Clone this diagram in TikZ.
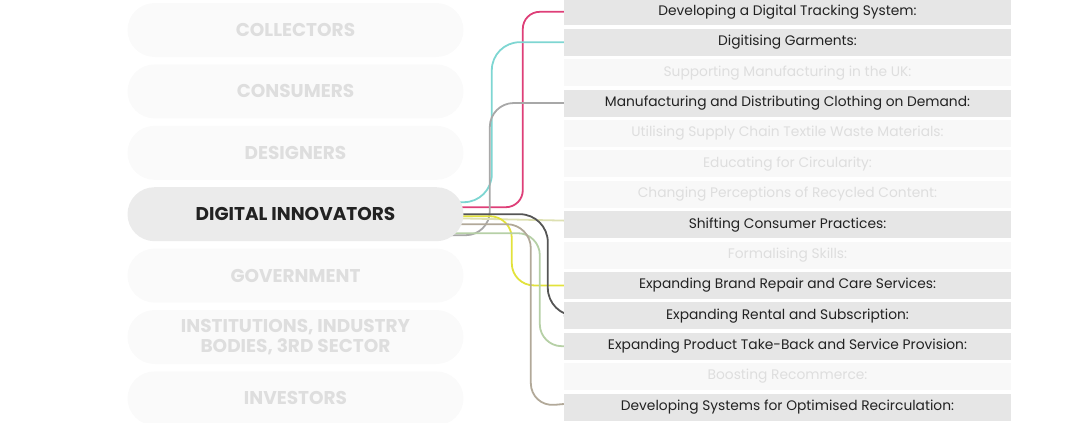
\documentclass[tikz,border=0pt]{standalone}
\usepackage{fontspec}
\setmainfont{Poppins}
\usetikzlibrary{positioning,backgrounds}
\definecolor{pillfaint}{HTML}{FAFAFA}
\definecolor{pillgrey}{HTML}{EBEBEB}
\definecolor{barfaint}{HTML}{F8F8F8}
\definecolor{bargrey}{HTML}{E6E6E6}
\definecolor{textfaint}{HTML}{DEDEDE}
\definecolor{textdark}{HTML}{222222}
\definecolor{lnpink}{HTML}{DE3F78}
\definecolor{lncyan}{HTML}{7ED6D2}
\definecolor{lngrey}{HTML}{A8A8A8}
\definecolor{lnolive}{HTML}{DDE0B2}
\definecolor{lnyellow}{HTML}{E2E23C}
\definecolor{lndark}{HTML}{555555}
\definecolor{lngreen}{HTML}{B6D0A6}
\definecolor{lntan}{HTML}{B2A999}

\begin{document}
\begin{tikzpicture}[x=1pt, y=-1pt, node distance=7pt,
    pill/.style={rounded corners=27pt, minimum width=336pt, minimum height=54pt, inner sep=0pt, fill=pillfaint, text=textfaint, align=center, font=\bfseries\fontsize{18.5}{20}\selectfont},
    pillon/.style={pill, fill=pillgrey, text=textdark},
    bar/.style={minimum width=447pt, minimum height=27pt, inner sep=0pt, fill=barfaint, text=textfaint, font=\fontsize{13.8}{14}\selectfont},
    baron/.style={bar, fill=bargrey, text=textdark},
    link/.style={line width=1.8pt}]
    \useasboundingbox (0,0) rectangle (1080,423);

    % stakeholder groups
    \node[pill] (coll) at (295.5,30) {COLLECTORS};
    \node[pill, below=of coll] (cons) {CONSUMERS};
    \node[pill, below=of cons] (desi) {DESIGNERS};
    \node[pillon, below=of desi] (digi) {DIGITAL INNOVATORS};
    \node[pill, below=of digi] (govt) {GOVERNMENT};
    \node[pill, below=of govt] (inst) {INSTITUTIONS, INDUSTRY\\BODIES, 3RD SECTOR};
    \node[pill, below=of inst] (inve) {INVESTORS};

    % actions
    \node[baron] (b1) at (787.5,11.8) {Developing a Digital Tracking System:};
    \node[baron, below=3pt of b1] (b2) {Digitising Garments:};
    \node[bar, below=3pt of b2] (b3) {Supporting Manufacturing in the UK:};
    \node[baron, below=3pt of b3] (b4) {Manufacturing and Distributing Clothing on Demand:};
    \node[bar, below=3pt of b4] (b5) {Utilising Supply Chain Textile Waste Materials:};
    \node[bar, below=3pt of b5] (b6) {Educating for Circularity:};
    \node[bar, below=3pt of b6] (b7) {Changing Perceptions of Recycled Content:};
    \node[baron, below=3pt of b7] (b8) {Shifting Consumer Practices:};
    \node[bar, below=3pt of b8] (b9) {Formalising Skills:};
    \node[baron, below=3pt of b9] (b10) {Expanding Brand Repair and Care Services:};
    \node[baron, below=3pt of b10] (b11) {Expanding Rental and Subscription:};
    \node[baron, below=3pt of b11] (b12) {Expanding Product Take-Back and Service Provision:};
    \node[bar, below=3pt of b12] (b13) {Boosting Recommerce:};
    \node[baron, below=3pt of b13] (b14) {Developing Systems for Optimised Recirculation:};
    \node[bar, below=3pt of b14] (b15) {};

    % links
    \begin{scope}[on background layer]
        \draw[link, lnpink] ([xshift=-12pt, yshift=7pt]digi.east) [rounded corners=17pt] -| ([xshift=-41pt]b1.west) -- (b1.west);
        \draw[link, lncyan] ([xshift=-12pt, yshift=12pt]digi.east) [rounded corners=28pt] -| ([xshift=-72pt]b2.west) [rounded corners=22pt] -- (b2.west);
        \draw[link, lngrey] ([xshift=-24pt, yshift=-21pt]digi.east) [rounded corners=24pt] -| ([xshift=-74pt]b4.west) [rounded corners=20pt] -- (b4.west);
        \draw[link, lnolive] ([xshift=-12pt, yshift=-4pt]digi.east) -- ([yshift=4pt]b8.west);
        \draw[link, lnyellow] ([xshift=-12pt, yshift=-2pt]digi.east) [rounded corners=22pt] -| ([xshift=-52pt]b10.west) [rounded corners=12pt] -- (b10.west);
        \draw[link, lndark] ([xshift=-12pt]digi.east) [rounded corners=28pt] -| ([xshift=-16pt]b11.west) [rounded corners=14pt] -- (b11.west);
        \draw[link, lngreen] ([xshift=-16pt, yshift=-19pt]digi.east) [rounded corners=22pt] -| ([xshift=-24pt]b12.west) [rounded corners=18pt] -- (b12.west);
        \draw[link, lntan] ([xshift=-12pt, yshift=-10pt]digi.east) [rounded corners=24pt] -| ([xshift=-33pt]b14.west) [rounded corners=20pt] -- ([yshift=3pt]b14.west);
    \end{scope}
\end{tikzpicture}
\end{document}
